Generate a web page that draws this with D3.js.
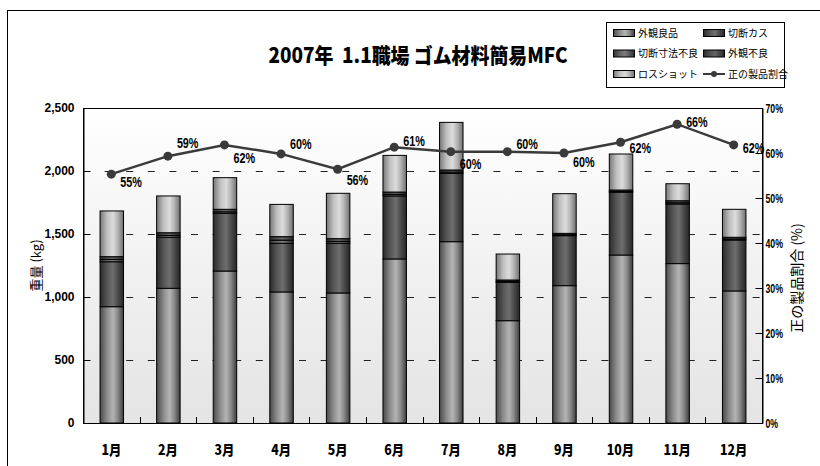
<!DOCTYPE html>
<html>
<head>
<meta charset="utf-8">
<script src="https://cdn.jsdelivr.net/npm/d3@7"></script>
<style>
    body { margin: 0; background: #ffffff; }
    svg { display: block; }
</style>
</head>
<body>
<div id="chart"></div>
<script>
// months and series (kg)
const months = ['1月', '2月', '3月', '4月', '5月', '6月', '7月', '8月', '9月', '10月', '11月', '12月'];
const good = [923, 1069, 1206, 1040, 1032, 1302, 1439, 812, 1090, 1333, 1265, 1048];      // 外観良品
const cut_scrap = [357, 405, 458, 386, 394, 500, 542, 304, 397, 498, 473, 404];        // 切断カス
const cut_size = [18, 15, 12, 25, 15, 12, 10, 8, 7, 7, 10, 9];                          // 切断寸法不良
const appearance_ng = [22, 21, 20, 28, 22, 19, 17, 11, 11, 11, 16, 13];                 // 外観不良
const loss_shot = [363, 292, 251, 256, 360, 291, 378, 206, 315, 286, 135, 222];         // ロスショット
const good_ratio = [55.3, 59.3, 61.8, 59.8, 56.4, 61.3, 60.3, 60.3, 60.0, 62.4, 66.4, 61.8]; // 正の製品割合 (%)

const series_names = ['外観良品', '切断カス', '切断寸法不良', '外観不良', 'ロスショット'];
const line_name = '正の製品割合';
const y_ticks = [0, 500, 1000, 1500, 2000, 2500];
const y2_ticks = [0, 10, 20, 30, 40, 50, 60, 70];

(function() {
    const width = 820, height = 466;
    const plot = {left: 83, right: 762, top: 108, bottom: 423};
    const jp_font = '"Noto Sans CJK JP", sans-serif';
    const num_font = '"Liberation Sans", Arial, sans-serif';

    // label nudges for the percent labels (dy from point)
    const label_dy = [13, -8, 18, -5, 16, -1, 17, -3, 14, 11, 3, 8];

    // squeeze text horizontally, the original uses a narrow heavy face
    let condense = function(sel, factor) {
        sel.each(function() {
            let len = this.getComputedTextLength();
            d3.select(this)
                .attr('textLength', len * factor)
                .attr('lengthAdjust', 'spacingAndGlyphs');
        });
    };

    let svg = d3.select('#chart').append('svg')
        .attr('width', width)
        .attr('height', height);

    let defs = svg.append('defs');

    let bg = defs.append('linearGradient')
        .attr('id', 'plot-bg')
        .attr('x1', 0).attr('y1', 0).attr('x2', 0).attr('y2', 1);
    bg.append('stop').attr('offset', '0%').attr('stop-color', '#ffffff');
    bg.append('stop').attr('offset', '100%').attr('stop-color', '#e4e4e4');

    // cylinder-like shading for each series
    const shades = [
        ['#4a4a4a', '#8c8c8c', '#b4b4b4', '#8a8a8a', '#3c3c3c'],
        ['#2a2a2a', '#555555', '#6e6e6e', '#4c4c4c', '#262626'],
        ['#333333', '#666666', '#7c7c7c', '#5a5a5a', '#2c2c2c'],
        ['#2c2c2c', '#505050', '#666666', '#4a4a4a', '#262626'],
        ['#777777', '#c0c0c0', '#dcdcdc', '#b4b4b4', '#707070']
    ];
    shades.forEach(function(s, i) {
        let g = defs.append('linearGradient')
            .attr('id', 'shade-' + i)
            .attr('x1', 0).attr('y1', 0).attr('x2', 1).attr('y2', 0);
        [0, 30, 55, 75, 100].forEach(function(o, j) {
            g.append('stop').attr('offset', o + '%').attr('stop-color', s[j]);
        });
    });

    // outer chart frame
    svg.append('rect')
        .attr('x', 7.5).attr('y', 10.5)
        .attr('width', 840).attr('height', 500)
        .attr('fill', '#ffffff')
        .attr('stroke', '#000000');

    let x = d3.scaleBand()
        .domain(months)
        .range([plot.left, plot.right])
        .paddingInner(0.585)
        .paddingOuter(0.2925);

    let y = d3.scaleLinear().domain([0, 2500]).range([plot.bottom, plot.top]);
    let y2 = d3.scaleLinear().domain([0, 70]).range([plot.bottom, plot.top]);

    svg.append('rect')
        .attr('x', plot.left).attr('y', plot.top)
        .attr('width', plot.right - plot.left)
        .attr('height', plot.bottom - plot.top)
        .attr('fill', 'url(#plot-bg)');

    // dashed grid
    svg.append('g')
        .selectAll('line')
        .data(y_ticks.slice(1, -1))
        .enter().append('line')
        .attr('x1', plot.left).attr('x2', plot.right)
        .attr('y1', (d) => Math.round(y(d)) + 0.5)
        .attr('y2', (d) => Math.round(y(d)) + 0.5)
        .attr('stroke', '#222222')
        .attr('stroke-dasharray', '7,14.6');

    // stacks
    let table = months.map(function(m, i) {
        return {month: m, s0: good[i], s1: cut_scrap[i], s2: cut_size[i], s3: appearance_ng[i], s4: loss_shot[i]};
    });
    let stack = d3.stack().keys(['s0', 's1', 's2', 's3', 's4'])(table);

    let layers = svg.append('g')
        .selectAll('g')
        .data(stack)
        .enter().append('g')
        .attr('fill', (d, i) => 'url(#shade-' + i + ')');

    layers.selectAll('rect')
        .data((d) => d)
        .enter().append('rect')
        .attr('x', (d) => x(d.data.month) + 0.5)
        .attr('y', (d) => y(d[1]))
        .attr('width', x.bandwidth())
        .attr('height', (d) => y(d[0]) - y(d[1]))
        .attr('stroke', '#000000')
        .attr('stroke-width', 1);

    // frame of the plot area
    svg.append('rect')
        .attr('x', plot.left + 0.5).attr('y', plot.top + 0.5)
        .attr('width', plot.right - plot.left)
        .attr('height', plot.bottom - plot.top)
        .attr('fill', 'none')
        .attr('stroke', '#000000');

    // left axis
    let left_axis = svg.append('g')
        .attr('transform', 'translate(' + (plot.left + 0.5) + ',0)')
        .call(d3.axisLeft(y).tickValues(y_ticks).tickFormat(d3.format(','))
            .tickSizeInner(-7).tickSizeOuter(0).tickPadding(9));
    left_axis.selectAll('text')
        .attr('font-family', num_font)
        .attr('font-weight', 'bold')
        .attr('font-size', 12)
        .attr('fill', '#000000');

    // right axis
    let right_axis = svg.append('g')
        .attr('transform', 'translate(' + (plot.right + 0.5) + ',0)')
        .call(d3.axisRight(y2).tickValues(y2_ticks).tickFormat((d) => d + '%')
            .tickSizeInner(-7).tickSizeOuter(0).tickPadding(3));
    right_axis.selectAll('text')
        .attr('font-family', num_font)
        .attr('font-weight', 'bold')
        .attr('font-size', 12.5)
        .attr('fill', '#000000')
        .call(condense, 0.7);

    // bottom axis: ticks between categories
    let boundaries = months.slice(1).map((m) => x(m) - x.step() * x.paddingInner() / 2);
    svg.append('g')
        .selectAll('line')
        .data(boundaries)
        .enter().append('line')
        .attr('x1', (d) => Math.round(d) + 0.5).attr('x2', (d) => Math.round(d) + 0.5)
        .attr('y1', plot.bottom).attr('y2', plot.bottom - 6)
        .attr('stroke', '#000000');

    svg.append('g')
        .selectAll('text')
        .data(months)
        .enter().append('text')
        .attr('x', (d) => x(d) + x.bandwidth() / 2)
        .attr('y', 455)
        .attr('text-anchor', 'middle')
        .attr('font-family', jp_font)
        .attr('font-weight', 900)
        .attr('font-size', 14)
        .text((d) => d)
        .call(condense, 0.88);

    // ratio line
    let line = d3.line()
        .x((d, i) => x(months[i]) + x.bandwidth() / 2)
        .y((d) => y2(d));

    svg.append('path').datum(good_ratio)
        .attr('fill', 'none')
        .attr('stroke', '#3a3a3a')
        .attr('stroke-width', 2.5)
        .attr('d', line);

    svg.append('g')
        .selectAll('circle')
        .data(good_ratio)
        .enter().append('circle')
        .attr('cx', (d, i) => x(months[i]) + x.bandwidth() / 2)
        .attr('cy', (d) => y2(d))
        .attr('r', 4.5)
        .attr('fill', '#3a3a3a');

    // percent labels, squeezed with a scale so their boxes stay narrow too
    svg.append('g')
        .selectAll('text')
        .data(good_ratio)
        .enter().append('text')
        .attr('transform', function(d, i) {
            let px = x(months[i]) + x.bandwidth() / 2 + 9,
                py = y2(d) + label_dy[i];
            return 'translate(' + px + ',' + py + ') scale(0.72,1)';
        })
        .attr('font-family', num_font)
        .attr('font-weight', 'bold')
        .attr('font-size', 15)
        .text((d) => Math.round(d) + '%');

    // axis titles
    svg.append('text')
        .attr('transform', 'translate(41,' + (plot.top + plot.bottom) / 2 + ') rotate(-90)')
        .attr('text-anchor', 'middle')
        .attr('font-family', jp_font)
        .attr('font-size', 13)
        .attr('fill', '#000000')
        .text('重量 (kg)');

    svg.append('text')
        .attr('transform', 'translate(802,278) rotate(-90)')
        .attr('text-anchor', 'middle')
        .attr('font-family', jp_font)
        .attr('font-size', 14)
        .attr('fill', '#000000')
        .text('正の製品割合 (%)');

    // title
    svg.append('text')
        .attr('x', 418)
        .attr('y', 63)
        .attr('text-anchor', 'middle')
        .attr('font-family', jp_font)
        .attr('font-weight', 900)
        .attr('font-size', 21)
        .style('white-space', 'pre')
        .text('2007年  1.1職場 ゴム材料簡易MFC')
        .call(condense, 0.9);

    // legend
    let legend = svg.append('g').attr('font-family', jp_font).attr('font-size', 10);
    legend.append('rect')
        .attr('x', 606.5).attr('y', 22.5)
        .attr('width', 178).attr('height', 65)
        .attr('fill', '#ffffff')
        .attr('stroke', '#000000');

    let entries = series_names.concat([line_name]);
    let items = legend.selectAll('g.item')
        .data(entries)
        .enter().append('g')
        .attr('class', 'item')
        .attr('transform', function(d, i) {
            let lx = (i % 2 === 0) ? 613 : 703, ly = 33 + 20.5 * Math.floor(i / 2);
            return 'translate(' + lx + ',' + ly + ')';
        });

    items.filter((d, i) => i < series_names.length)
        .append('rect')
        .attr('x', 0.5).attr('y', -3.5)
        .attr('width', 21).attr('height', 7)
        .attr('fill', (d) => 'url(#shade-' + series_names.indexOf(d) + ')')
        .attr('stroke', '#000000');

    let line_item = items.filter((d) => d === line_name);
    line_item.append('line')
        .attr('x1', 0).attr('x2', 22).attr('y1', 0).attr('y2', 0)
        .attr('stroke', '#3a3a3a').attr('stroke-width', 2);
    line_item.append('circle')
        .attr('cx', 11).attr('cy', 0).attr('r', 3)
        .attr('fill', '#3a3a3a');

    items.append('text')
        .attr('x', 25)
        .attr('dy', '0.36em')
        .text((d) => d);
}());
</script>
</body>
</html>
